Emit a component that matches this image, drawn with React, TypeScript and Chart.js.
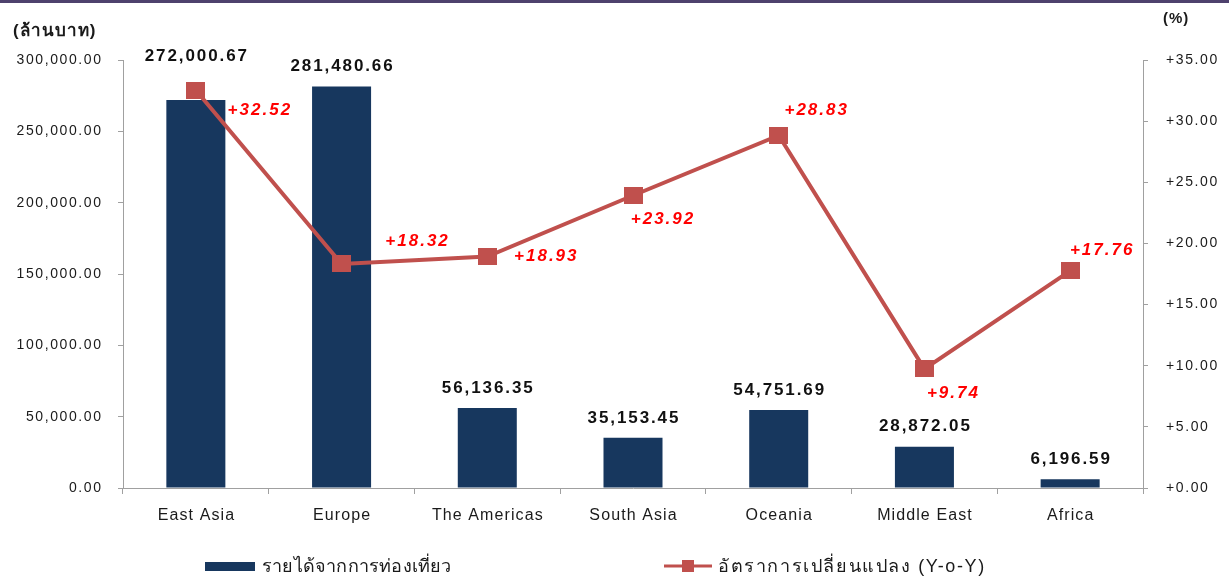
import React, { useEffect, useRef } from "react";
import { Chart, registerables } from "chart.js";

Chart.register(...registerables);

// ---------- data ----------
const categories = ["East Asia", "Europe", "The Americas", "South Asia", "Oceania", "Middle East", "Africa"];
const revenue = [272000.67, 281480.66, 56136.35, 35153.45, 54751.69, 28872.05, 6196.59];
const yoyChange = [32.52, 18.32, 18.93, 23.92, 28.83, 9.74, 17.76];
const leftTicks = [0, 50000, 100000, 150000, 200000, 250000, 300000];
const rightTicks = [0, 5, 10, 15, 20, 25, 30, 35];
const revenueLabel = "รายได้จากการท่องเที่ยว";
const changeLabel = "อัตราการเปลี่ยนแปลง (Y-o-Y)";
const leftAxisTitle = "(ล้านบาท)";
const rightAxisTitle = "(%)";

// ---------- label placement (style only) ----------
const barLabelOffsets = [-44, -20, -20, -20, -20, -20, -20];
const lineLabelOffsets = [
  [63, 20],
  [75, -23],
  [58, 0],
  [29, 24],
  [37, -25],
  [28, 24],
  [31, -21],
];

const FONT = "'Liberation Sans', Arial, sans-serif";
const BAR_COLOR = "#17375e";
const LINE_COLOR = "#c0504d";
const AXIS_COLOR = "#a0a0a0";
const TEXT_COLOR = "#1a1a1a";

const fmtMoney = (v: number) =>
  v.toLocaleString("en-US", { minimumFractionDigits: 2, maximumFractionDigits: 2 });
const fmtPct = (v: number) => "+" + v.toFixed(2);

function makeMarker(w: number, h: number, color: string) {
  const c = document.createElement("canvas");
  c.width = w;
  c.height = h;
  const g = c.getContext("2d")!;
  g.fillStyle = color;
  g.fillRect(0, 0, w, h);
  return c;
}

const textPlugin = {
  id: "customText",
  afterDraw(chart: any) {
    const ctx: CanvasRenderingContext2D = chart.ctx;
    const yS = chart.scales.y;
    const y1S = chart.scales.y1;
    const xS = chart.scales.x;
    const ca = chart.chartArea;

    const text = (
      s: string,
      x: number,
      y: number,
      font: string,
      color: string,
      align: CanvasTextAlign,
      ls: number
    ) => {
      ctx.save();
      ctx.font = font;
      (ctx as any).letterSpacing = ls + "px";
      ctx.fillStyle = color;
      ctx.textAlign = align;
      ctx.textBaseline = "middle";
      const dx = align === "center" ? ls / 2 : align === "right" ? ls : 0;
      ctx.fillText(s, x + dx, y);
      ctx.restore();
    };

    ctx.save();
    // top border
    ctx.fillStyle = "#4e416d";
    ctx.fillRect(0, 0, chart.width, 3);

    // left axis tick labels
    leftTicks.forEach((v) => {
      text(fmtMoney(v), ca.left - 22, yS.getPixelForValue(v), `14px ${FONT}`, TEXT_COLOR, "right", 1.6);
    });
    // right axis tick labels
    rightTicks.forEach((v) => {
      text(fmtPct(v), ca.right + 23, y1S.getPixelForValue(v), `14px ${FONT}`, TEXT_COLOR, "left", 1.6);
    });
    // category labels
    categories.forEach((c, i) => {
      text(c, xS.getPixelForValue(i), ca.bottom + 28, `16px ${FONT}`, TEXT_COLOR, "center", 1.1);
    });

    // axis titles
    text(leftAxisTitle, 13, 31, `bold 17px ${FONT}`, TEXT_COLOR, "left", 1);
    text(rightAxisTitle, 1163, 19, `bold 15px ${FONT}`, TEXT_COLOR, "left", 1);

    // bar value labels
    const barMeta = chart.getDatasetMeta(0);
    barMeta.data.forEach((el: any, i: number) => {
      text(fmtMoney(revenue[i]), el.x, el.y + barLabelOffsets[i], `bold 17px ${FONT}`, "#111", "center", 1.9);
    });

    // line value labels
    const lineMeta = chart.getDatasetMeta(1);
    lineMeta.data.forEach((el: any, i: number) => {
      const [dx, dy] = lineLabelOffsets[i];
      text(fmtPct(yoyChange[i]), el.x + dx, el.y + dy, `italic bold 17px ${FONT}`, "#ff0000", "center", 2);
    });

    // legend
    const ly = 567;
    ctx.fillStyle = BAR_COLOR;
    ctx.fillRect(205, ly - 5, 50, 9);
    text(revenueLabel, 262, ly, `18px ${FONT}`, TEXT_COLOR, "left", 0.2);

    ctx.strokeStyle = LINE_COLOR;
    ctx.lineWidth = 3;
    ctx.beginPath();
    ctx.moveTo(664, ly - 1);
    ctx.lineTo(712, ly - 1);
    ctx.stroke();
    ctx.fillStyle = LINE_COLOR;
    ctx.fillRect(682, ly - 7, 12, 12);
    text(changeLabel, 718, ly, `18px ${FONT}`, TEXT_COLOR, "left", 1.6);

    ctx.restore();
  },
};

export default function App() {
  const ref = useRef<HTMLCanvasElement | null>(null);

  useEffect(() => {
    if (!ref.current) return;
    const marker = makeMarker(19, 17, LINE_COLOR);
    const chart = new Chart(ref.current, {
      type: "bar",
      data: {
        labels: categories,
        datasets: [
          {
            type: "bar",
            label: revenueLabel,
            data: revenue,
            backgroundColor: BAR_COLOR,
            yAxisID: "y",
            barPercentage: 0.405,
            categoryPercentage: 1,
            order: 2,
          } as any,
          {
            type: "line",
            label: changeLabel,
            data: yoyChange,
            borderColor: LINE_COLOR,
            backgroundColor: LINE_COLOR,
            borderWidth: 4,
            pointStyle: marker,
            pointRadius: 9,
            tension: 0,
            yAxisID: "y1",
            order: 1,
          } as any,
        ],
      },
      options: {
        responsive: false,
        animation: false,
        layout: { padding: { top: 60, left: 0, right: 0, bottom: 0 } },
        plugins: {
          legend: { display: false },
          tooltip: { enabled: false },
          title: { display: false },
        },
        scales: {
          x: {
            offset: true,
            grid: {
              display: true,
              drawOnChartArea: false,
              drawTicks: true,
              tickLength: 6,
              color: AXIS_COLOR,
              offset: true,
            },
            border: { color: AXIS_COLOR, width: 1 },
            ticks: { display: false },
            afterFit: (s: any) => {
              s.height = 91;
            },
          },
          y: {
            position: "left",
            min: 0,
            max: 300000,
            ticks: { display: false, stepSize: 50000 },
            grid: { display: true, drawOnChartArea: false, drawTicks: true, tickLength: 5, color: AXIS_COLOR },
            border: { color: AXIS_COLOR, width: 1 },
            afterFit: (s: any) => {
              s.width = 123;
            },
          },
          y1: {
            position: "right",
            min: 0,
            max: 35,
            ticks: { display: false, stepSize: 5 },
            grid: { display: true, drawOnChartArea: false, drawTicks: true, tickLength: 5, color: AXIS_COLOR },
            border: { color: AXIS_COLOR, width: 1 },
            afterFit: (s: any) => {
              s.width = 86;
            },
          },
        } as any,
      },
      plugins: [textPlugin],
    });
    return () => chart.destroy();
  }, []);

  return (
    <div style={{ position: "fixed", left: 0, top: 0, width: 1229, height: 579, background: "#fff" }}>
      <canvas ref={ref} width={1229} height={579} style={{ display: "block" }} />
    </div>
  );
}
